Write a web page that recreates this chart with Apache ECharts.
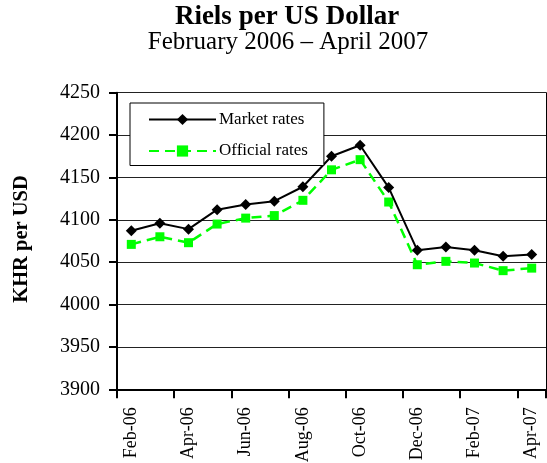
<!DOCTYPE html>
<html>
<head>
<meta charset="utf-8">
<script src="https://cdn.jsdelivr.net/npm/echarts@6/dist/echarts.min.js"></script>
<style>html,body{margin:0;padding:0;background:#fff}#c{width:547px;height:463px}</style>
</head>
<body>
<div id="c"></div>
<script>
var categories = ['Feb-06','Mar-06','Apr-06','May-06','Jun-06','Jul-06','Aug-06','Sep-06','Oct-06','Nov-06','Dec-06','Jan-07','Feb-07','Mar-07','Apr-07'];
var marketRates = [4087, 4096, 4089, 4112, 4118, 4122, 4139, 4175, 4188, 4138, 4064, 4068, 4064, 4057, 4059];
var officialRates = [4071, 4080, 4073, 4095, 4102, 4105, 4123, 4159, 4171, 4121, 4047, 4051, 4049, 4040, 4043];
var yTicks = {min: 3900, max: 4250, interval: 50};

var serif = 'Liberation Serif';
var chart = echarts.init(document.getElementById('c'), null, {renderer: 'canvas'});
chart.setOption({
  animation: false,
  backgroundColor: '#fff',
  graphic: [
    {type: 'text', style: {text: 'Riels per US Dollar', x: 287, y: 17.5, align: 'center', verticalAlign: 'middle', font: 'bold 27px ' + serif, fill: '#000'}},
    {type: 'text', style: {text: 'February 2006 \u2013 April 2007', x: 288, y: 42, align: 'center', verticalAlign: 'middle', font: '25px ' + serif, fill: '#000'}},
    {type: 'text', x: 22, y: 239, rotation: Math.PI / 2, style: {text: 'KHR per USD', x: 0, y: 0, align: 'center', verticalAlign: 'middle', font: 'bold 20.5px ' + serif, fill: '#000'}}
  ],
  grid: {left: 117, right: 1, top: 92.7, bottom: 73.7, containLabel: false, outerBoundsMode: 'none'},
  legend: {
    orient: 'vertical',
    left: 130, top: 103,
    backgroundColor: '#fff',
    borderColor: '#000', borderWidth: 1,
    padding: [8, 16, 6, 18],
    itemWidth: 67, itemHeight: 14, itemGap: 14.5,
    textStyle: {fontFamily: serif, fontSize: 17, color: '#000', padding: [0, 0, 0, -2]},
    data: ['Market rates', 'Official rates']
  },
  xAxis: {
    type: 'category',
    data: categories,
    boundaryGap: true,
    axisLine: {lineStyle: {color: '#000', width: 2}},
    axisTick: {show: true, interval: 1, length: 9, lineStyle: {color: '#000', width: 2}},
    axisLabel: {interval: 1, rotate: 90, margin: 18, fontFamily: serif, fontSize: 18, color: '#000'},
    splitLine: {show: false}
  },
  yAxis: [{
    type: 'value',
    min: yTicks.min, max: yTicks.max, interval: yTicks.interval,
    axisLine: {show: true, lineStyle: {color: '#000', width: 2}},
    axisTick: {show: true, length: 8, lineStyle: {color: '#000', width: 2}},
    axisLabel: {margin: 17, fontFamily: serif, fontSize: 20, color: '#000', formatter: function (v) { return String(v); }},
    splitLine: {show: true, lineStyle: {color: '#222', width: 1}}
  }, {
    type: 'value', position: 'right',
    min: yTicks.min, max: yTicks.max, interval: yTicks.interval,
    axisLine: {show: true, lineStyle: {color: '#000', width: 1}},
    axisTick: {show: false}, axisLabel: {show: false}, splitLine: {show: false}
  }],
  series: [{
    name: 'Market rates',
    type: 'line',
    data: marketRates,
    symbol: 'diamond', symbolSize: 11,
    itemStyle: {color: '#000'},
    lineStyle: {color: '#000', width: 2},
    z: 3
  }, {
    name: 'Official rates',
    type: 'line',
    data: officialRates,
    symbol: 'rect', symbolSize: 9,
    itemStyle: {color: '#00ff00'},
    lineStyle: {color: '#00ff00', width: 2.5, type: [10, 6]},
    z: 2
  }]
});
</script>
</body>
</html>
